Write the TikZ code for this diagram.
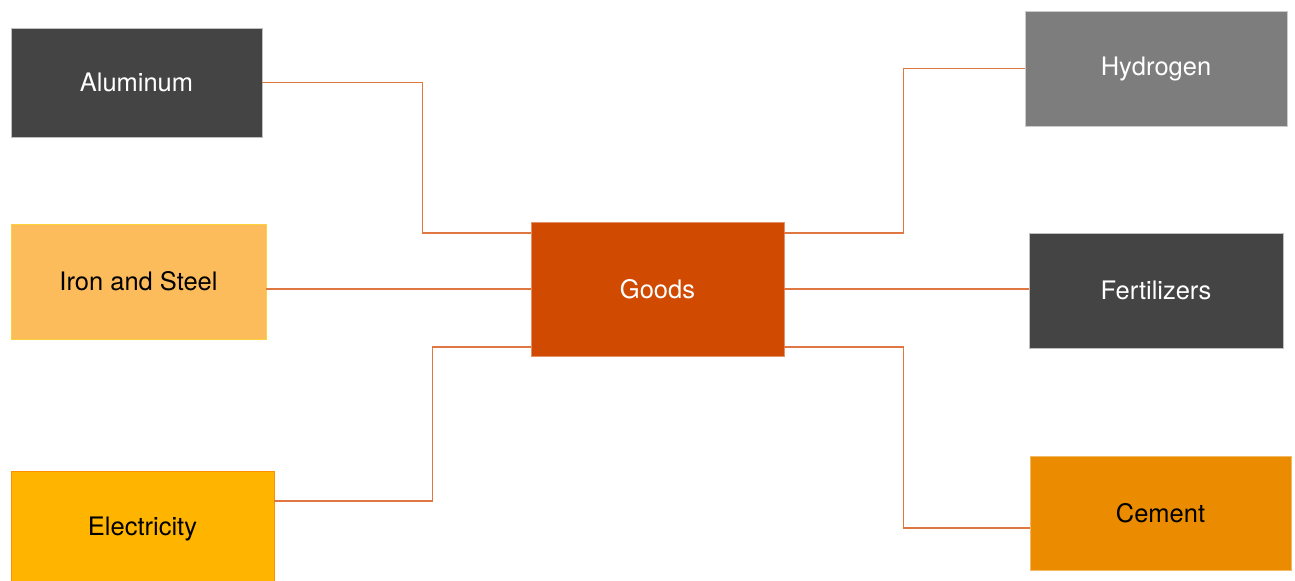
\documentclass[tikz,border=0pt]{standalone}
\usepackage{fontspec}
\setmainfont{TeX Gyre Heros}
\definecolor{darkgrey}{HTML}{444444}
\definecolor{midgrey}{HTML}{7D7D7D}
\definecolor{paleamber}{HTML}{FDBC5C}
\definecolor{amber}{HTML}{FFB400}
\definecolor{tangerine}{HTML}{EB8C00}
\definecolor{rust}{HTML}{D04A02}
\definecolor{linkcol}{HTML}{E07642}
\tikzset{
	box/.style={rectangle, draw, line width=0.5pt, inner sep=0pt, font=\fontsize{14.5}{16}\selectfont},
	link/.style={draw=linkcol, line width=0.6pt}
}
\begin{document}
\begin{tikzpicture}
\useasboundingbox (0,0) rectangle (25.9,-11.6);

% Entradas
\node[box, fill=darkgrey, draw=gray!50, text=white, minimum width=5.02cm, minimum height=2.18cm] (alu) at (2.73,-1.65) {Aluminum};
\node[box, fill=paleamber, draw=yellow!40!paleamber, minimum width=5.1cm, minimum height=2.3cm] (iron) at (2.77,-5.63) {Iron and Steel};
\node[box, fill=amber, draw=orange!70!amber, minimum width=5.26cm, minimum height=2.3cm] (elec) at (2.85,-10.57) {Electricity};

% Centro
\node[box, fill=rust, draw=rust!60, text=white, minimum width=5.06cm, minimum height=2.68cm] (goods) at (13.15,-5.78) {Goods};

% Salidas
\node[box, fill=midgrey, draw=gray!40, text=white, minimum width=5.24cm, minimum height=2.3cm] (hyd) at (23.12,-1.37) {Hydrogen};
\node[box, fill=darkgrey, draw=gray!50, text=white, minimum width=5.08cm, minimum height=2.3cm] (fert) at (23.12,-5.81) {Fertilizers};
\node[box, fill=tangerine, draw=tangerine!60, minimum width=5.22cm, minimum height=2.28cm] (cem) at (23.21,-10.26) {Cement};

% Conexiones
\draw[link] (alu.east) -- ++(3.2,0) |- ([yshift=1.12cm]goods.west);
\draw[link] (goods.west) -- (goods.west -| iron.east);
\draw[link] ([yshift=0.55cm]elec.east) -- ++(3.16,0) |- ([yshift=-1.16cm]goods.west);
\draw[link] ([yshift=1.12cm]goods.east) -- ++(2.38,0) |- (hyd.west);
\draw[link] (goods.east) -- (goods.east -| fert.west);
\draw[link] ([yshift=-1.16cm]goods.east) -- ++(2.38,0) |- ([yshift=-0.3cm]cem.west);
\end{tikzpicture}
\end{document}
